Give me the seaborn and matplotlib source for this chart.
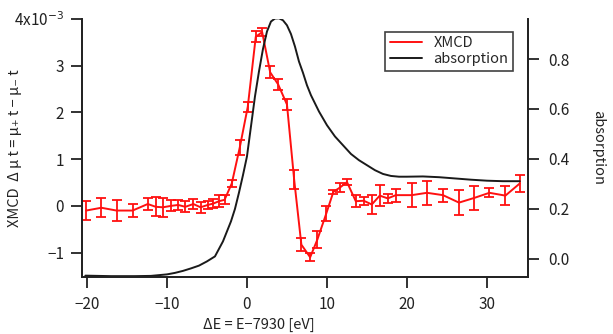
import numpy as np
import pandas as pd
import matplotlib
matplotlib.use('Agg')
import matplotlib.pyplot as plt
import seaborn as sns
from matplotlib.lines import Line2D

# XMCD (x1e-3) with error bars
xmcd_e = [-20.1, -18.2, -16.3, -14.3, -12.4, -11.4, -10.5, -9.5, -8.6, -7.7,
          -6.7, -5.8, -4.9, -4.2, -3.5, -2.8, -1.9, -0.9, 0.1, 1.1,
          1.9, 2.9, 3.9, 5.0, 5.9, 6.8, 7.9, 8.8, 9.9, 10.8,
          11.6, 12.5, 13.6, 14.6, 15.6, 16.6, 17.6, 18.6, 20.6, 22.5,
          24.5, 26.5, 28.4, 30.3, 32.3, 34.1]
xmcd_v = [-0.10, -0.04, -0.10, -0.10, 0.04, -0.02, -0.03, 0.00, 0.02, -0.02,
          0.04, -0.03, 0.02, 0.05, 0.10, 0.13, 0.48, 1.25, 2.12, 3.62,
          3.72, 2.86, 2.60, 2.17, 0.56, -0.83, -1.10, -0.72, -0.17, 0.30,
          0.39, 0.51, 0.10, 0.11, 0.03, 0.22, 0.16, 0.23, 0.23, 0.28,
          0.23, 0.07, 0.17, 0.28, 0.22, 0.48]
xmcd_err = [0.20, 0.20, 0.22, 0.13, 0.12, 0.20, 0.20, 0.12, 0.10, 0.12,
            0.10, 0.12, 0.08, 0.10, 0.13, 0.10, 0.08, 0.17, 0.10, 0.12,
            0.08, 0.13, 0.12, 0.12, 0.20, 0.14, 0.09, 0.18, 0.16, 0.05,
            0.09, 0.06, 0.13, 0.09, 0.20, 0.23, 0.10, 0.14, 0.25, 0.26,
            0.14, 0.26, 0.26, 0.10, 0.20, 0.18]

# absorption spectrum
abs_e = [-20.2, -17, -14, -12, -10, -9, -8, -7, -6, -5,
         -4, -3, -2, -1.5, -1, -0.5, 0, 0.5, 1, 1.5,
         2, 2.5, 3, 3.5, 4, 4.5, 5, 5.5, 6, 6.5,
         7, 7.5, 8, 9, 10, 11, 12, 13, 14, 15,
         16, 17, 18, 19, 20, 22, 24, 26, 28, 30, 32, 34.1]
abs_v = [-0.067, -0.069, -0.069, -0.068, -0.062, -0.056, -0.048, -0.038, -0.027, -0.010,
         0.010, 0.070, 0.150, 0.200, 0.265, 0.335, 0.410, 0.530, 0.650, 0.750,
         0.840, 0.910, 0.950, 0.962, 0.963, 0.955, 0.935, 0.900, 0.850, 0.790,
         0.745, 0.695, 0.655, 0.590, 0.535, 0.490, 0.455, 0.420, 0.395, 0.375,
         0.355, 0.340, 0.332, 0.329, 0.329, 0.330, 0.327, 0.322, 0.317, 0.313, 0.311, 0.311]

xticks = [-20, -10, 0, 10, 20, 30]
yticks_left = [-1, 0, 1, 2, 3, 4]
ytick_labels_left = ['\u22121', '0', '1', '2', '3', '4x10$^{-3}$']
yticks_right = [0.0, 0.2, 0.4, 0.6, 0.8]

sns.set_style('ticks')
plt.rcParams['font.family'] = ['Noto Sans CJK JP', 'DejaVu Sans']
plt.rcParams['axes.unicode_minus'] = True

xmcd_df = pd.DataFrame({'E': xmcd_e, 'v': xmcd_v, 'err': xmcd_err})
abs_df = pd.DataFrame({'E': abs_e, 'a': abs_v})

fig = plt.figure(figsize=(6.13, 3.34), dpi=100)
ax = fig.add_axes([0.134, 0.171, 0.727, 0.772])
ax2 = ax.twinx()

red = '#ff1010'
black = '#1a1a1a'

sns.lineplot(data=xmcd_df, x='E', y='v', ax=ax, color=red, lw=1.4, legend=False)
ax.errorbar(xmcd_df['E'], xmcd_df['v'], yerr=xmcd_df['err'], fmt='none',
            ecolor=red, elinewidth=1.3, capsize=3.5, capthick=1.3)

sns.lineplot(data=abs_df, x='E', y='a', ax=ax2, color=black, lw=1.4, legend=False)

ax.set_xlim(-20.6, 35.1)
ax.set_ylim(-1.52, 4.0)
ax2.set_ylim(-0.072, 0.96)

ax.set_xticks(xticks)
ax.set_xticklabels([str(t).replace('-', '\u2212') for t in xticks])
ax.set_yticks(yticks_left)
ax.set_yticklabels(ytick_labels_left)
ax2.set_yticks(yticks_right)
ax2.set_yticklabels([f'{t:.1f}' for t in yticks_right])

for a in (ax, ax2):
    a.spines['top'].set_visible(False)
    for s in ('left', 'right', 'bottom'):
        a.spines[s].set_linewidth(1.3)
        a.spines[s].set_color('#222222')
    a.tick_params(axis='both', length=8, width=1.3, color='#222222',
                  labelsize=11, labelcolor='#222222', pad=5)
ax.tick_params(axis='x', pad=6)
ax2.tick_params(axis='y', pad=7)

ax.set_xlabel('\u0394E = E\u22127930 [eV]', fontsize=10.5, color='#222222')
ax.xaxis.set_label_coords(0.397, -0.16)
ax.set_ylabel('XMCD  \u0394 \u03bc t = \u03bc\u208a t \u2212 \u03bc\u208b t', fontsize=10.5, color='#222222')
ax.yaxis.set_label_coords(-0.135, 0.5)
ax2.set_ylabel('absorption', fontsize=10.5, color='#222222', rotation=270, va='center')
ax2.yaxis.set_label_coords(1.157, 0.5)

handles = [Line2D([], [], color=red, lw=1.4), Line2D([], [], color=black, lw=1.4)]
leg = ax2.legend(handles, ['XMCD', 'absorption'], loc='upper right',
                 bbox_to_anchor=(0.966, 0.95), frameon=True, fancybox=False,
                 edgecolor='#111111', fontsize=10.5, handlelength=2.2,
                 borderpad=0.3, labelspacing=0.15, handletextpad=0.8,
                 borderaxespad=0)
leg.get_frame().set_linewidth(1.2)

plt.savefig('out.png', dpi=100)
